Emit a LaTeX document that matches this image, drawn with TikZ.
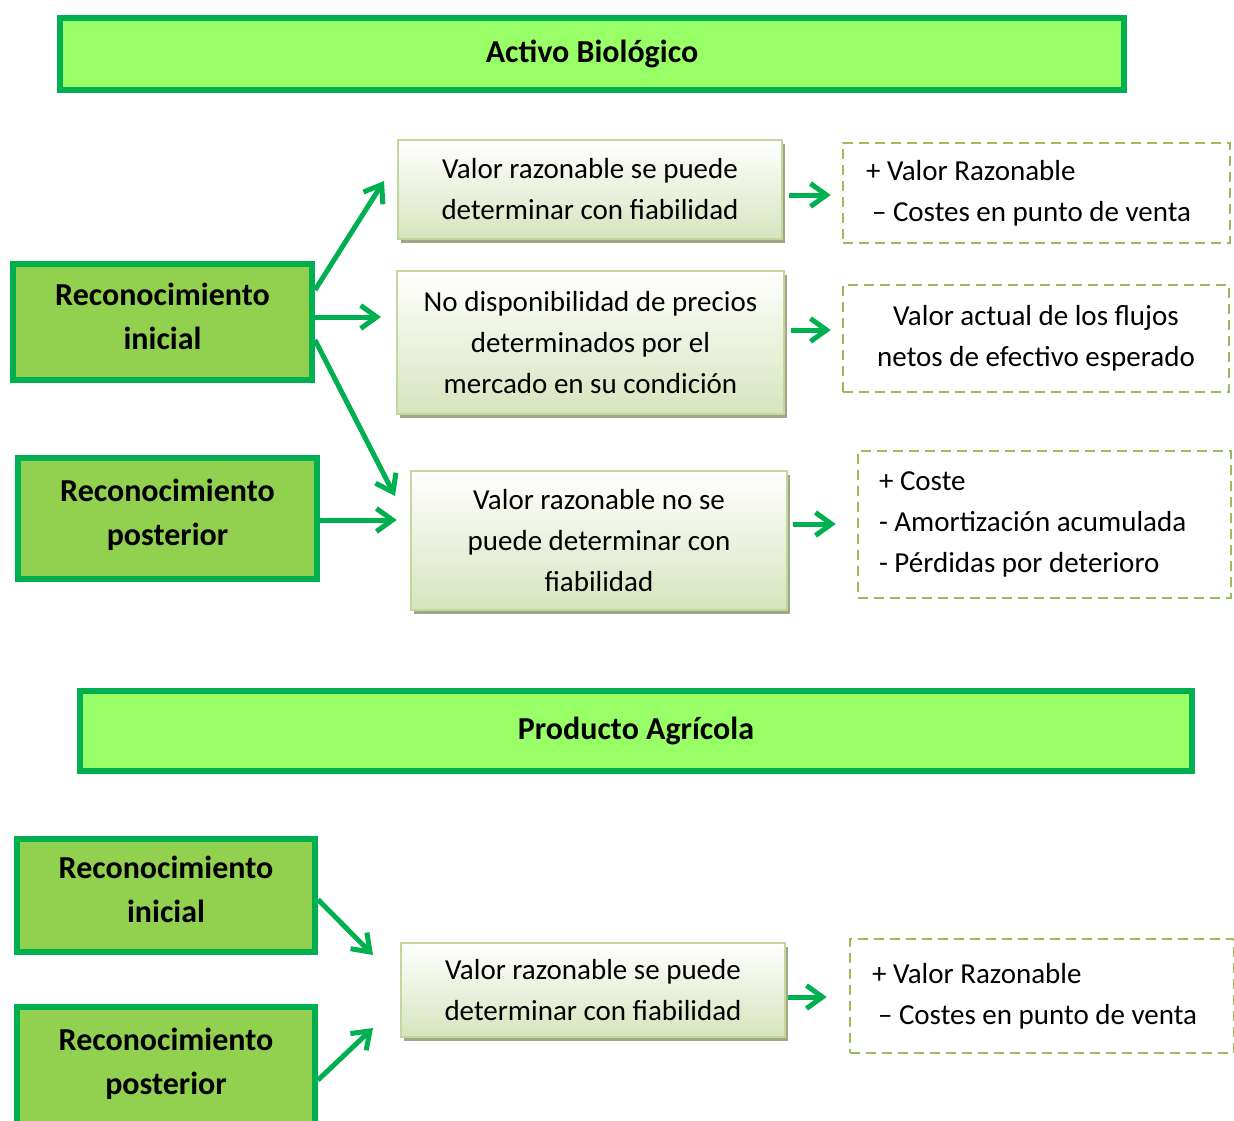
\documentclass[tikz,border=0pt]{standalone}
\usepackage{fontspec}
\setmainfont{Carlito}
\usetikzlibrary{arrows.meta,shadows}
\definecolor{gborder}{RGB}{0,176,80}
\definecolor{rfill}{RGB}{146,208,80}
\definecolor{tfill}{RGB}{153,255,102}
\definecolor{pborder}{RGB}{195,214,155}
\definecolor{pbottom}{RGB}{215,228,189}
\definecolor{dashc}{RGB}{155,187,89}
\definecolor{shadowc}{RGB}{160,167,137}
\begin{document}
\begin{tikzpicture}[x=1pt,y=-1pt,
 titlebox/.style={draw=gborder, line width=6pt, fill=tfill, font=\fontsize{32}{40}\selectfont\bfseries, inner sep=0pt},
 recbox/.style={draw=gborder, line width=6pt, fill=rfill, align=center, font=\fontsize{32}{44}\selectfont\bfseries, inner sep=0pt, text depth=12pt},
 valbox/.style={draw=pborder, line width=2.5pt, top color=white, bottom color=pbottom, general shadow={fill=shadowc, shadow xshift=3pt, shadow yshift=-4pt}, align=center, font=\fontsize{29}{41}\selectfont, inner sep=0pt},
 resbox/.style={draw=dashc, line width=2.5pt, dash pattern=on 10pt off 6pt, font=\fontsize{29}{41}\selectfont, inner ysep=0pt},
 arr/.style={draw=gborder, line width=5pt, -{Straight Barb[length=16pt,width=23pt]}}
]
\useasboundingbox (0,0) rectangle (1234,1120);

% Activo Biologico
\node[titlebox, minimum width=1064pt, minimum height=72pt] (T1) at (592,54) {Activo Biológico};
\node[recbox, minimum width=299pt, minimum height=116pt] (RI) at (162.5,322) {Reconocimiento\\inicial};
\node[recbox, minimum width=299pt, minimum height=121pt] (RP) at (167.5,518.5) {Reconocimiento\\posterior};
\node[valbox, minimum width=384pt, minimum height=99pt] (A) at (590,189.5) {Valor razonable se puede\\determinar con fiabilidad};
\node[valbox, minimum width=387pt, minimum height=143pt] (B) at (590.5,342.5) {No disponibilidad de precios\\determinados por el\\mercado en su condición};
\node[valbox, minimum width=376pt, minimum height=139pt] (C) at (599,540.5) {Valor razonable no se\\puede determinar con\\fiabilidad};
\node[resbox, align=flush left, text width=341pt, inner xsep=23pt, minimum height=100pt] (D1) at (1036.5,193) {\mbox{+ Valor Razonable}\\\mbox{\hspace*{6pt}– Costes en punto de venta}};
\node[resbox, align=center, minimum width=386pt, minimum height=107pt] (D2) at (1036,338.5) {Valor actual de los flujos\\netos de efectivo esperado};
\node[resbox, align=flush left, text width=331pt, inner xsep=21pt, minimum height=147pt] (D3) at (1044.5,524.5) {\mbox{+ Coste}\\\mbox{- Amortización acumulada}\\\mbox{- Pérdidas por deterioro}};

\coordinate (t1) at (384,181);
\coordinate (t2) at (381,317);
\coordinate (t3) at (395,496);
\draw[arr] ([yshift=32pt]RI.east) -- (t1);
\draw[arr] (RI.east |- t2) -- (t2);
\draw[arr] ([yshift=-18pt]RI.east) -- (t3);
\draw[arr, shorten >=13pt] ([yshift=-1.5pt]RP.east) -- ([yshift=-1.5pt]RP.east -| C.west);
\draw[arr, shorten <=6pt, shorten >=11pt] ([yshift=-5.5pt]A.east) -- ([yshift=-5.5pt]A.east -| D1.west);
\draw[arr, shorten <=6pt, shorten >=11pt] ([yshift=12.5pt]B.east) -- ([yshift=12.5pt]B.east -| D2.west);
\draw[arr, shorten <=5pt, shorten >=21pt] ([yshift=16.5pt]C.east) -- ([yshift=16.5pt]C.east -| D3.west);

% Producto Agricola
\node[titlebox, minimum width=1112pt, minimum height=80pt] (T2) at (636,731) {Producto Agrícola};
\node[recbox, minimum width=298pt, minimum height=113pt] (PI) at (166,895.5) {Reconocimiento\\inicial};
\node[recbox, minimum width=298pt, minimum height=120pt] (PP) at (166,1067) {Reconocimiento\\posterior};
\node[valbox, minimum width=384pt, minimum height=94pt] (E) at (593,990) {Valor razonable se puede\\determinar con fiabilidad};
\node[resbox, align=flush left, text width=340pt, inner xsep=22pt, minimum height=114pt] (D4) at (1042,996) {\mbox{+ Valor Razonable}\\\mbox{\hspace*{6pt}– Costes en punto de venta}};

\coordinate (t4) at (373,955);
\coordinate (t5) at (373,1028);
\draw[arr] ([yshift=-4pt]PI.east) -- (t4);
\draw[arr] ([yshift=-13pt]PP.east) -- (t5);
\draw[arr, shorten <=2pt, shorten >=22pt] ([yshift=-7pt]E.east) -- ([yshift=-7pt]E.east -| D4.west);
\end{tikzpicture}
\end{document}
